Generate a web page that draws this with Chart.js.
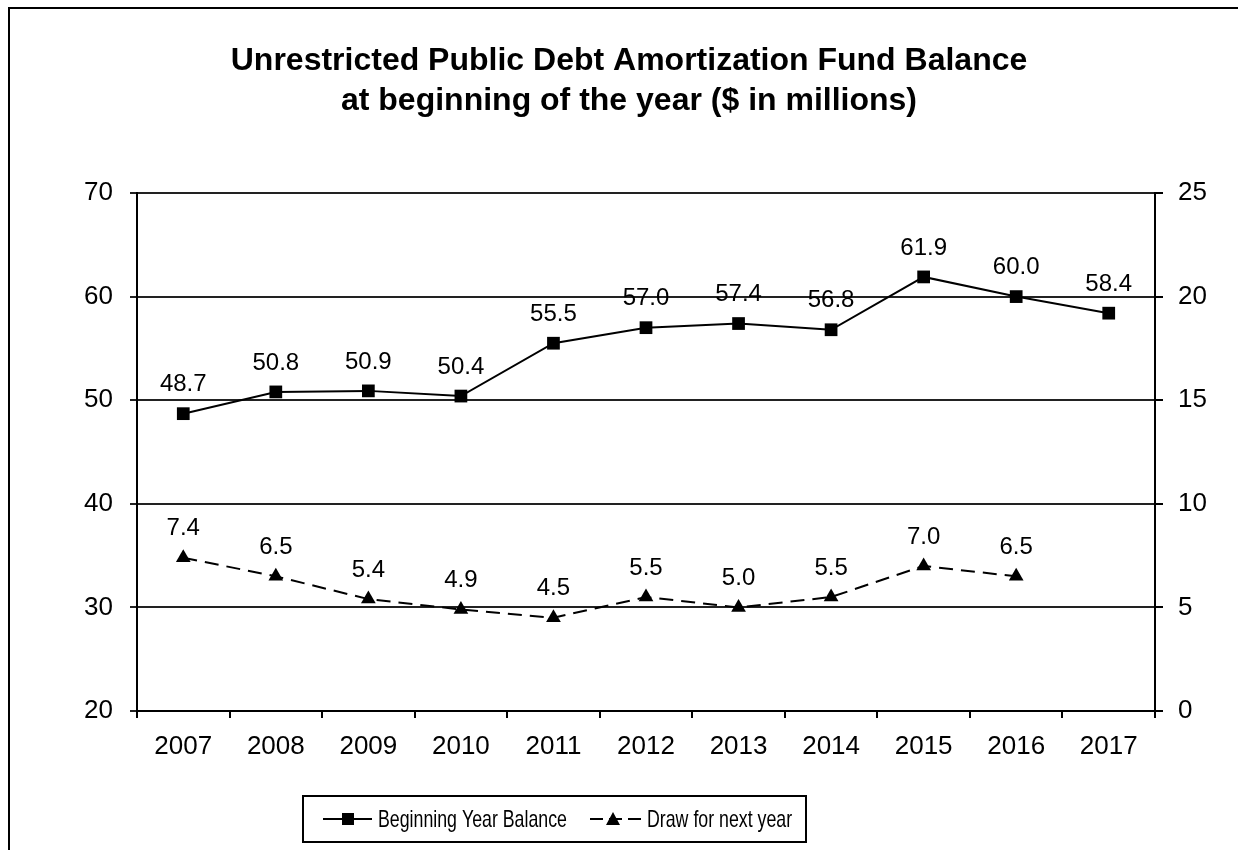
<!DOCTYPE html>
<html>
<head>
<meta charset="utf-8">
<script src="https://cdn.jsdelivr.net/npm/chart.js@4.4.1/dist/chart.umd.min.js"></script>
<style>
  html, body { margin: 0; padding: 0; background: #fff; overflow: hidden; }
  #frame { position: absolute; left: 8px; top: 7px; width: 1400px; height: 1000px; border: 2px solid #000; }
  #wrap { position: absolute; left: 0; top: 0; width: 1238px; height: 850px; }
</style>
</head>
<body>
<div id="frame"></div>
<div id="wrap"><canvas id="fundChart" width="1238" height="850"></canvas></div>
<script>
// data
const years = ["2007", "2008", "2009", "2010", "2011", "2012", "2013", "2014", "2015", "2016", "2017"];
const balance = [48.7, 50.8, 50.9, 50.4, 55.5, 57.0, 57.4, 56.8, 61.9, 60.0, 58.4];
const drawNext = [7.4, 6.5, 5.4, 4.9, 4.5, 5.5, 5.0, 5.5, 7.0, 6.5, null];
const leftTicks = [20, 30, 40, 50, 60, 70];
const rightTicks = [0, 5, 10, 15, 20, 25];
const titleLines = ["Unrestricted Public Debt Amortization Fund Balance", "at beginning of the year ($ in millions)"];
const legendNames = ["Beginning Year Balance", "Draw for next year"];

const FONT = '"Liberation Sans", Arial, sans-serif';

// value labels above each point
const pointLabels = {
  id: "pointLabels",
  afterDatasetsDraw(chart) {
    const ctx = chart.ctx;
    ctx.save();
    ctx.font = "24px " + FONT;
    ctx.fillStyle = "#000";
    ctx.textAlign = "center";
    ctx.textBaseline = "middle";
    chart.data.datasets.forEach((ds, i) => {
      const meta = chart.getDatasetMeta(i);
      meta.data.forEach((pt, j) => {
        const v = ds.data[j];
        if (v === null || v === undefined) return;
        ctx.fillText(v.toFixed(1), pt.x, pt.y - 29);
      });
    });
    ctx.restore();
  }
};

// title + boxed legend
const decor = {
  id: "decor",
  afterDraw(chart) {
    const ctx = chart.ctx;
    ctx.save();
    ctx.fillStyle = "#000";
    ctx.textAlign = "center";
    ctx.textBaseline = "middle";
    ctx.font = "bold 32px " + FONT;
    ctx.fillText(titleLines[0], 629, 61);
    ctx.fillText(titleLines[1], 629, 101);

    // legend box
    ctx.lineWidth = 2;
    ctx.strokeStyle = "#000";
    ctx.strokeRect(303, 796, 503, 46);
    const ly = 819;

    // solid + square
    ctx.beginPath();
    ctx.moveTo(323, ly);
    ctx.lineTo(372, ly);
    ctx.stroke();
    ctx.fillRect(342, ly - 6, 12, 12);

    // dashed + triangle
    ctx.setLineDash([13, 6]);
    ctx.beginPath();
    ctx.moveTo(590, ly);
    ctx.lineTo(644, ly);
    ctx.stroke();
    ctx.setLineDash([]);
    ctx.beginPath();
    ctx.moveTo(613, ly - 7);
    ctx.lineTo(620, ly + 6);
    ctx.lineTo(606, ly + 6);
    ctx.closePath();
    ctx.fill();

    ctx.textAlign = "left";
    ctx.font = "24px " + FONT;
    [[378, legendNames[0]], [647, legendNames[1]]].forEach(([x, t]) => {
      ctx.save();
      ctx.translate(x, ly + 1);
      ctx.scale(0.74, 1);
      ctx.fillText(t, 0, 0);
      ctx.restore();
    });
    ctx.restore();
  }
};

const ctx = document.getElementById("fundChart").getContext("2d");
new Chart(ctx, {
  type: "line",
  data: {
    labels: years,
    datasets: [
      {
        label: legendNames[0],
        data: balance,
        yAxisID: "y",
        borderColor: "#000",
        borderWidth: 2,
        pointStyle: "rect",
        pointRadius: 9,
        pointBackgroundColor: "#000",
        pointBorderWidth: 0,
        tension: 0,
      },
      {
        label: legendNames[1],
        data: drawNext,
        yAxisID: "y1",
        borderColor: "#000",
        borderWidth: 2,
        borderDash: [14, 8],
        pointStyle: "triangle",
        pointRadius: 8.5,
        pointBackgroundColor: "#000",
        pointBorderWidth: 0,
        tension: 0,
      },
    ],
  },
  options: {
    responsive: false,
    animation: false,
    layout: { padding: { top: 193 } },
    plugins: {
      legend: { display: false },
      title: { display: false },
      tooltip: { enabled: false },
    },
    scales: {
      x: {
        offset: true,
        grid: { offset: true, drawOnChartArea: false, tickLength: 7, color: "#000", lineWidth: 2 },
        border: { color: "#000", width: 2 },
        ticks: { color: "#000", font: { size: 26, family: FONT }, padding: 13, maxRotation: 0 },
        afterFit(scale) { scale.height = 139; },
      },
      y: {
        position: "left",
        min: leftTicks[0],
        max: leftTicks[leftTicks.length - 1],
        afterBuildTicks(scale) { scale.ticks = leftTicks.map(v => ({ value: v })); },
        grid: { color: "#222", lineWidth: 2, tickLength: 7 },
        border: { color: "#000", width: 2 },
        ticks: { color: "#000", font: { size: 26, family: FONT }, padding: 17 },
        afterFit(scale) { scale.width = 137; },
      },
      y1: {
        position: "right",
        min: rightTicks[0],
        max: rightTicks[rightTicks.length - 1],
        afterBuildTicks(scale) { scale.ticks = rightTicks.map(v => ({ value: v })); },
        grid: { drawOnChartArea: false, color: "#000", lineWidth: 2, tickLength: 8 },
        border: { color: "#000", width: 2 },
        ticks: { color: "#000", font: { size: 26, family: FONT }, padding: 15 },
        afterFit(scale) { scale.width = 83; },
      },
    },
  },
  plugins: [pointLabels, decor],
});
</script>
</body>
</html>
